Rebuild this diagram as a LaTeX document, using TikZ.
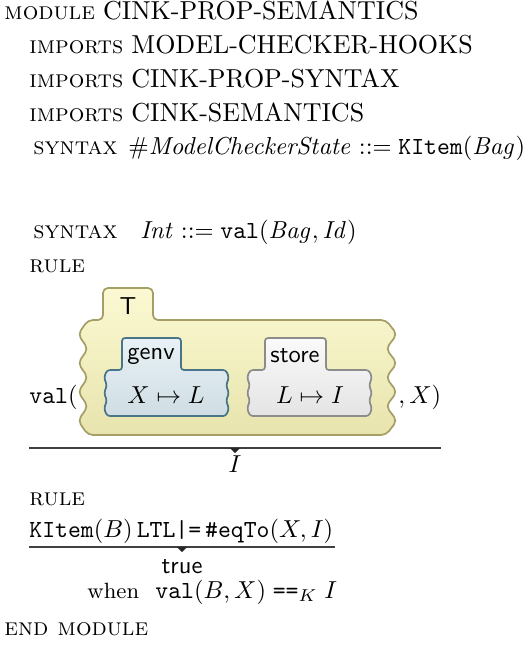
\documentclass[tikz,border=0pt]{standalone}
\usepackage{amssymb}
\usetikzlibrary{positioning,calc}
\definecolor{ttop}{HTML}{FBF9D2}
\definecolor{tbot}{HTML}{E8E4AE}
\definecolor{tline}{HTML}{A59E66}
\definecolor{gtop}{HTML}{E8F2F6}
\definecolor{gbot}{HTML}{CFDDE3}
\definecolor{gline}{HTML}{4A7588}
\definecolor{stop}{HTML}{FAFAFA}
\definecolor{sbot}{HTML}{E4E4E4}
\definecolor{sline}{HTML}{8C8C8C}
\tikzset{
    txt/.style={anchor=base west, inner sep=0pt},
    mid/.style={anchor=base, inner sep=0pt},
    lbl/.style={inner sep=0pt, font=\sffamily},
    tcell/.style={draw=tline, line width=0.7pt, top color=ttop, bottom color=tbot, rounded corners=2pt},
    gcell/.style={draw=gline, line width=0.7pt, top color=gtop, bottom color=gbot, rounded corners=1.2pt},
    scell/.style={draw=sline, line width=0.7pt, top color=stop, bottom color=sbot, rounded corners=1.2pt},
    rline/.style={draw=black!75, line width=0.5pt},
    rtip/.style={fill=black!85}
}
\newcommand{\kw}[1]{\textsc{#1}}
\newcommand{\mname}[1]{{\fontsize{10.6}{12}\selectfont #1}}

\begin{document}
\begin{tikzpicture}[x=0.408pt,y=-0.408pt]
    \useasboundingbox (0,0) rectangle (529,652);

    \node[txt] (mod) at (4,19) {\kw{module} \mname{CINK-PROP-SEMANTICS}};
    \node[txt] (imp1) at (29,53) {\kw{imports} \mname{MODEL-CHECKER-HOOKS}};
    \node[txt] (imp2) at (29,87) {\kw{imports} \mname{CINK-PROP-SYNTAX}};
    \node[txt] (imp3) at (29,121) {\kw{imports} \mname{CINK-SEMANTICS}};
    \node[txt] (syn1kw) at (33,154) {\kw{syntax}};
    \node[txt] (syn1) at (128,154) {$\mathit{\#ModelCheckerState} ::= \texttt{KItem}(\mathit{Bag})$};
    \node[txt] (syn2kw) at (33,238) {\kw{syntax}};
    \node[txt] (syn2) at (140,238) {$\mathit{Int} \mathrel{::=} \texttt{val}(\mathit{Bag},\mathit{Id})$};

    % first rule
    \node[txt] (rule1) at (29,272) {\kw{rule}};
    \draw[tcell] (88,320) -- (103,320) -- (103,288) -- (153,288) -- (153,320) -- (386,320)
        \foreach \k in {1,...,8} { -- ({386+11*mod(\k,2)},{320+14.375*\k}) }
        -- (88,435)
        \foreach \k in {1,...,7} { -- ({88-10*mod(\k,2)},{435-14.375*\k}) } -- cycle;
    \draw[gcell] (107,370) -- (122,370) -- (122,338) -- (181,338) -- (181,370) -- (226,370)
        \foreach \k in {1,...,6} { -- ({226+3*mod(\k,2)},{370+7.667*\k}) }
        -- (107,416)
        \foreach \k in {1,...,5} { -- ({107-3*mod(\k,2)},{416-7.667*\k}) } -- cycle;
    \draw[scell] (250,370) -- (265,370) -- (265,338) -- (326,338) -- (326,370) -- (369,370)
        \foreach \k in {1,...,6} { -- ({369+3*mod(\k,2)},{370+7.667*\k}) }
        -- (250,416)
        \foreach \k in {1,...,5} { -- ({250-3*mod(\k,2)},{416-7.667*\k}) } -- cycle;
    \node[lbl] (tname) at (128,306) {T};
    \node[lbl] (gname) at (151,356) {genv};
    \node[lbl] (sname) at (295,356) {store};
    \node[mid] (gbody) at (166,403) {$X \mapsto L$};
    \node[mid] (sbody) at (310,403) {$L \mapsto I$};
    \node[txt] (valL) at (29,403) {\texttt{val}(};
    \node[txt] (valR) at (398,403) {$, X)$};
    \coordinate (r1a) at (29,448);
    \coordinate (r1b) at (441,448);
    \draw[rline] (r1a) -- (r1b);
    \fill[rtip] ($(r1a)!.5!(r1b)+(-5,0)$) -- ++(10,0) -- ++(-5,5) -- cycle;
    \node[mid] (rhs1) at (235,472) {$I$};

    % second rule
    \node[txt] (rule2) at (29,505) {\kw{rule}};
    \node[txt] (lhs2) at (29,537) {$\texttt{KItem}(B)\,\texttt{LTL|=}\,\texttt{\#eqTo}(X, I)$};
    \coordinate (r2a) at (29,547);
    \coordinate (r2b) at (335,547);
    \draw[rline] (r2a) -- (r2b);
    \fill[rtip] ($(r2a)!.5!(r2b)+(-5,0)$) -- ++(10,0) -- ++(-5,5) -- cycle;
    \node[mid, font=\sffamily] (rhs2) at (182,573) {true};
    \node[txt] (cond) at (87,598) {{\small when}\ \ $\texttt{val}(B, X)\;\texttt{==}_K\; I$};

    \node[txt] (endmod) at (4,635) {\kw{end module}};
\end{tikzpicture}
\end{document}
